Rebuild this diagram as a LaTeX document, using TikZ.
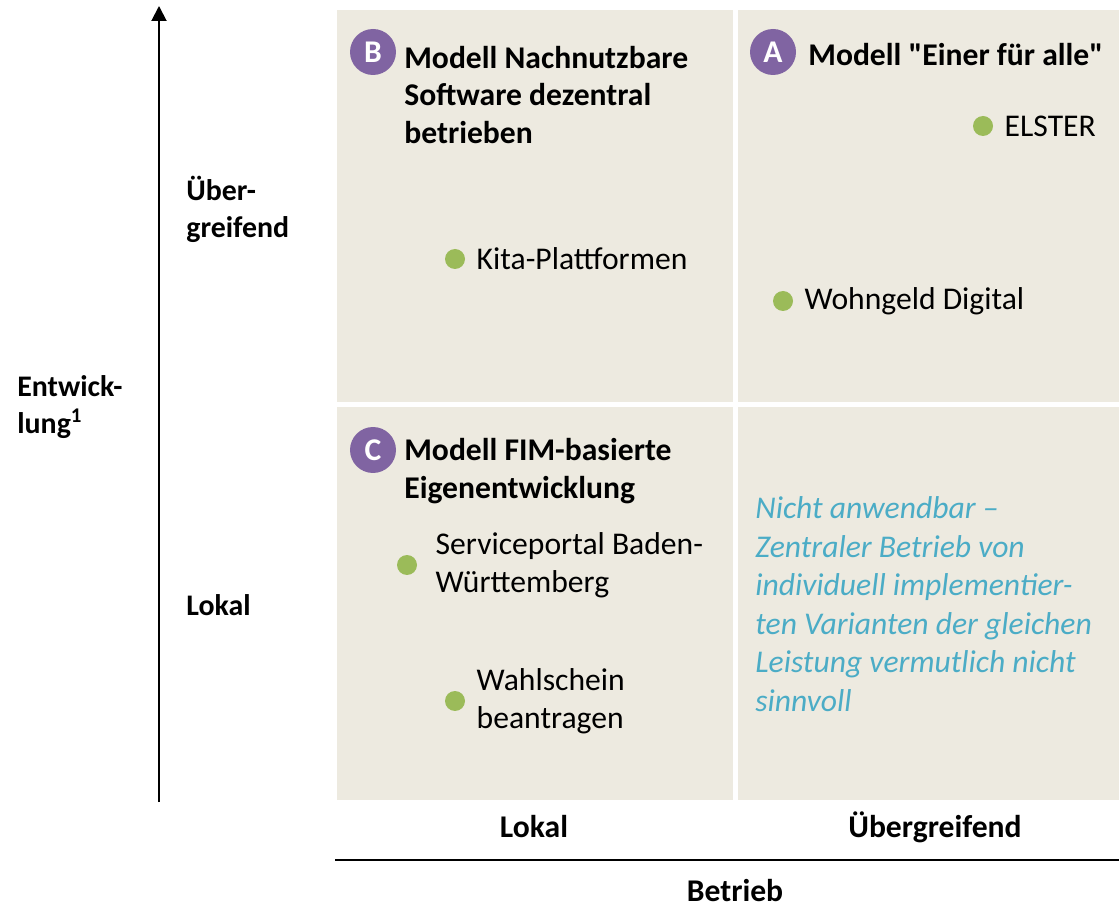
\documentclass[tikz,border=0pt]{standalone}
\usepackage{fontspec}
\setmainfont{Carlito}
\newfontfamily\headfont{Carlito}
\usepackage{xcolor}
\usepackage{tikz}
\usetikzlibrary{positioning,arrows.meta}

\definecolor{quadbg}{RGB}{237,234,224}
\definecolor{badgepurple}{RGB}{128,100,162}
\definecolor{dotgreen}{RGB}{155,187,89}
\definecolor{noteblue}{RGB}{75,172,198}

\begin{document}
\begin{tikzpicture}[
    x=0.02cm, y=-0.02cm,
    quad/.style={fill=quadbg},
    badge/.style={circle, fill=badgepurple, text=white, inner sep=0pt, minimum size=0.92cm, font=\fontsize{18}{22}\selectfont\bfseries},
    heading/.style={anchor=west, align=left, inner sep=0pt, font=\headfont\fontsize{18}{21.2}\selectfont\bfseries},
    dot/.style={circle, fill=dotgreen, inner sep=0pt, minimum size=0.4cm},
    item/.style={align=left, inner sep=0pt, font=\fontsize{18}{21.9}\selectfont},
    note/.style={anchor=west, align=left, inner sep=0pt, text=noteblue, font=\fontsize{18}{21.9}\selectfont\itshape},
    axislabel/.style={align=left, inner sep=0pt, font=\fontsize{17}{21}\selectfont\bfseries},
    xlabel/.style={inner sep=0pt, font=\fontsize{18}{21}\selectfont\bfseries},
    axis/.style={line width=1.1pt, draw=black}
]
    \useasboundingbox (0,0) rectangle (1119,908);

    % Quadrants
    \fill[quad] (337,10) rectangle (733,402);
    \fill[quad] (738,10) rectangle (1119,402);
    \fill[quad] (337,407) rectangle (733,800);
    \fill[quad] (738,407) rectangle (1119,800);

    % Axes
    \coordinate (ybottom) at (159,802);
    \coordinate (ytop) at (159,6);
    \draw[axis, -{Triangle[length=0.3cm, width=0.3cm]}] (ybottom) -- (ytop);
    \coordinate (xleft) at (335,860);
    \coordinate (xright) at (1119,860);
    \draw[axis] (xleft) -- (xright);

    % Axis labels: Entwicklung
    \node[axislabel, anchor=west] (entw) at (17,407) {Entwick-\\lung\textsuperscript{1}};
    \node[axislabel, anchor=west] (yhigh) at (186,209) {Über-\\greifend};
    \node[axislabel, anchor=west] (ylow) at (186,605) {Lokal};

    % Axis labels: Betrieb
    \node[xlabel] (xlow) at (534,827) {Lokal};
    \node[xlabel] (xhigh) at (935,827) {Übergreifend};
    \node[xlabel] (betrieb) at (735,891) {Betrieb};

    % Model B (top left)
    \node[badge] (badgeB) at (373,52) {B};
    \node[heading] (headB) at (404,95) {Modell Nachnutzbare\\Software dezentral\\betrieben};
    \node[dot] (kitadot) at (455,259) {};
    \node[item, right=0.22cm of kitadot] (kita) {Kita-Plattformen};

    % Model A (top right)
    \node[badge] (badgeA) at (773,52) {A};
    \node[heading] (headA) at (808,55) {Modell "Einer für alle"};
    \node[dot] (elsterdot) at (983,126) {};
    \node[item, right=0.22cm of elsterdot] (elster) {ELSTER};
    \node[dot] (wohngelddot) at (783,301) {};
    \node[item, right=0.22cm of wohngelddot] (wohngeld) {Wohngeld Digital};

    % Model C (bottom left)
    \node[badge] (badgeC) at (373,450) {C};
    \node[heading] (headC) at (404,471) {Modell FIM-basierte\\Eigenentwicklung};
    \node[dot] (bwdot) at (407,565) {};
    \node[item, right=0.36cm of bwdot] (bw) {Serviceportal Baden-\\Württemberg};
    \node[dot] (wahldot) at (455,701) {};
    \node[item, right=0.22cm of wahldot] (wahl) {Wahlschein\\beantragen};

    % Bottom right: not applicable
    \node[note] (na) at (755,604) {Nicht anwendbar --\\Zentraler Betrieb von\\individuell implementier-\\ten Varianten der gleichen\\Leistung vermutlich nicht\\sinnvoll};

\end{tikzpicture}
\end{document}
